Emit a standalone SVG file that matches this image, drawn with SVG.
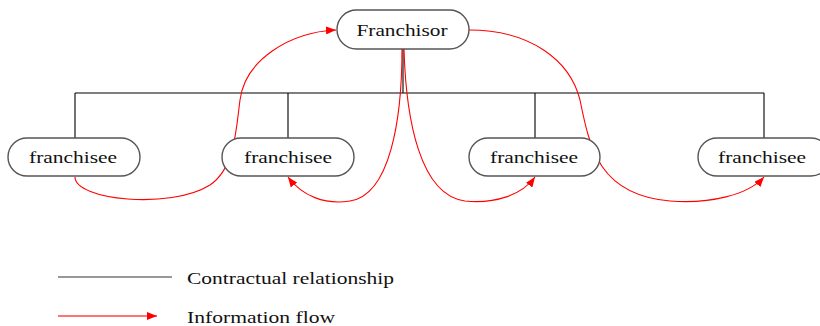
<svg xmlns="http://www.w3.org/2000/svg" width="820" height="326" viewBox="0 0 820 326">
<style>
.node rect{fill:#fff;stroke:#555;stroke-width:1.4}
.node text{font-family:"Liberation Serif","Times New Roman",serif;font-size:16px;fill:#111;text-anchor:middle}
.tree{fill:none;stroke:#000;stroke-width:1.1}
.flow{fill:none;stroke:#f00;stroke-width:1.1}
.leg{font-family:"Liberation Serif","Times New Roman",serif;font-size:16px;fill:#111}
</style>
<defs>
<marker id="arr" viewBox="0 0 10 8" refX="10" refY="4" markerWidth="10" markerHeight="8" markerUnits="userSpaceOnUse" orient="auto">
<path d="M0,0 L10,4 L0,8 Z" fill="#f00"/>
</marker>
</defs>
<rect width="820" height="326" fill="#fff"/>
<g id="connectors">
<path class="tree" d="M403,49 V93 M75,93 H764 M75,93 V138 M288,93 V138 M535,93 V138 M764,93 V138"/>
<path class="flow" marker-end="url(#arr)" d="M75,177 C75,200 170,210 210,185 C235,168 236,130 240,100 C245,60 290,32 336,30"/>
<path class="flow" marker-end="url(#arr)" d="M402,49 C402,120 390,195 350,201 C325,205 302,196 288,177"/>
<path class="flow" marker-end="url(#arr)" d="M404,49 C406,120 420,195 465,201 C495,204 522,195 535,177"/>
<path class="flow" marker-end="url(#arr)" d="M469,30 C530,30 570,60 580,100 C590,150 600,195 670,201 C710,204 748,195 764,177"/>
</g>
<g id="franchisor" class="node">
<rect x="337" y="10" width="132" height="39" rx="19.5"/>
<text x="402" y="36" textLength="91" lengthAdjust="spacingAndGlyphs">Franchisor</text>
</g>
<g id="franchisee1" class="node">
<rect x="8" y="138" width="132" height="38" rx="19"/>
<text x="73" y="163" textLength="88" lengthAdjust="spacingAndGlyphs">franchisee</text>
</g>
<g id="franchisee2" class="node">
<rect x="222" y="138" width="132" height="38" rx="19"/>
<text x="288" y="163" textLength="88" lengthAdjust="spacingAndGlyphs">franchisee</text>
</g>
<g id="franchisee3" class="node">
<rect x="469" y="138" width="131" height="38" rx="19"/>
<text x="534" y="163" textLength="88" lengthAdjust="spacingAndGlyphs">franchisee</text>
</g>
<g id="franchisee4" class="node">
<rect x="698" y="138" width="132" height="38" rx="19"/>
<text x="762" y="163" textLength="88" lengthAdjust="spacingAndGlyphs">franchisee</text>
</g>
<g id="legend">
<line x1="58" y1="277" x2="172" y2="277" stroke="#333" stroke-width="1.2"/>
<text class="leg" x="187" y="284" textLength="207" lengthAdjust="spacingAndGlyphs">Contractual relationship</text>
<line x1="58" y1="316" x2="157" y2="316" stroke="#f44" stroke-width="1.4" marker-end="url(#arr)"/>
<text class="leg" x="187" y="323" textLength="148" lengthAdjust="spacingAndGlyphs">Information flow</text>
</g>
</svg>
